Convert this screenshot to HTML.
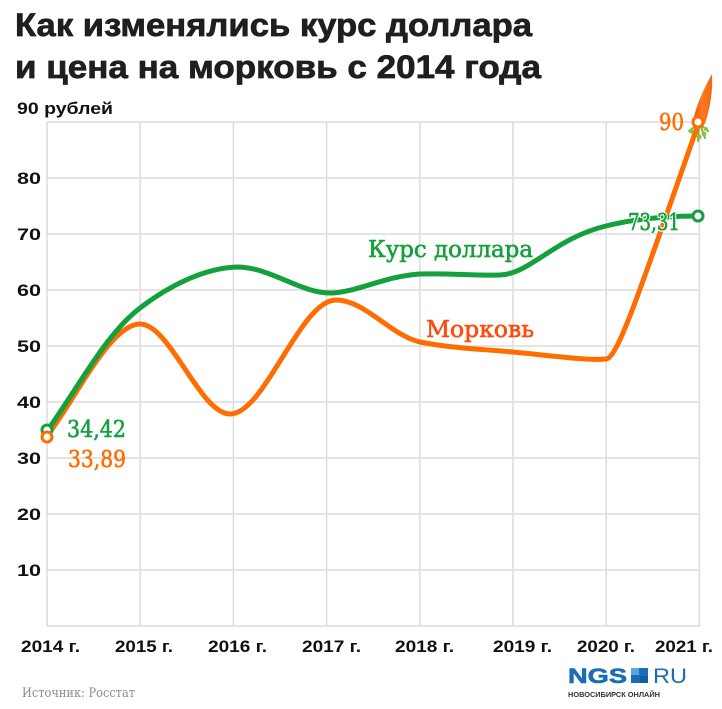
<!DOCTYPE html>
<html>
<head>
<meta charset="utf-8">
<style>
  html,body{margin:0;padding:0;background:#fff;}
  body{width:722px;height:709px;overflow:hidden;}
  svg{display:block;}
</style>
</head>
<body>
<svg width="722" height="709" viewBox="0 0 722 709" xmlns="http://www.w3.org/2000/svg">
  <rect width="722" height="709" fill="#fff"/>

  <!-- Title -->
  <text x="15" y="36" font-family="'Liberation Sans', sans-serif" font-weight="bold" font-size="32" fill="#1f1f1f" stroke="#1f1f1f" stroke-width="0.7" textLength="517" lengthAdjust="spacingAndGlyphs">Как изменялись курс доллара</text>
  <text x="15" y="78" font-family="'Liberation Sans', sans-serif" font-weight="bold" font-size="32" fill="#1f1f1f" stroke="#1f1f1f" stroke-width="0.7" textLength="526" lengthAdjust="spacingAndGlyphs">и цена на морковь с 2014 года</text>

  <!-- Y axis title -->
  <text x="17" y="114" font-family="'Liberation Sans', sans-serif" font-weight="bold" font-size="17" fill="#111" textLength="96" lengthAdjust="spacingAndGlyphs">90 рублей</text>

  <!-- Grid -->
  <g stroke="#dcdcdc" stroke-width="1.5" fill="none">
    <line x1="47" y1="122" x2="699.4" y2="122"/>
    <line x1="47" y1="178" x2="699.4" y2="178"/>
    <line x1="47" y1="234" x2="699.4" y2="234"/>
    <line x1="47" y1="290" x2="699.4" y2="290"/>
    <line x1="47" y1="346" x2="699.4" y2="346"/>
    <line x1="47" y1="402" x2="699.4" y2="402"/>
    <line x1="47" y1="458" x2="699.4" y2="458"/>
    <line x1="47" y1="514" x2="699.4" y2="514"/>
    <line x1="47" y1="570" x2="699.4" y2="570"/>
    <line x1="47" y1="626" x2="699.4" y2="626"/>
    <line x1="47" y1="122" x2="47" y2="626"/>
    <line x1="140.2" y1="122" x2="140.2" y2="626"/>
    <line x1="233.4" y1="122" x2="233.4" y2="626"/>
    <line x1="326.6" y1="122" x2="326.6" y2="626"/>
    <line x1="419.8" y1="122" x2="419.8" y2="626"/>
    <line x1="513" y1="122" x2="513" y2="626"/>
    <line x1="606.2" y1="122" x2="606.2" y2="626"/>
    <line x1="699.4" y1="122" x2="699.4" y2="626"/>
  </g>

  <!-- Y tick labels -->
  <g font-family="'Liberation Sans', sans-serif" font-weight="bold" font-size="17" fill="#111">
    <text x="17" y="184" textLength="24" lengthAdjust="spacingAndGlyphs">80</text>
    <text x="17" y="240" textLength="24" lengthAdjust="spacingAndGlyphs">70</text>
    <text x="17" y="296" textLength="24" lengthAdjust="spacingAndGlyphs">60</text>
    <text x="17" y="352" textLength="24" lengthAdjust="spacingAndGlyphs">50</text>
    <text x="17" y="408" textLength="24" lengthAdjust="spacingAndGlyphs">40</text>
    <text x="17" y="464" textLength="24" lengthAdjust="spacingAndGlyphs">30</text>
    <text x="17" y="520" textLength="24" lengthAdjust="spacingAndGlyphs">20</text>
    <text x="17" y="576" textLength="24" lengthAdjust="spacingAndGlyphs">10</text>
  </g>

  <!-- X labels -->
  <g font-family="'Liberation Sans', sans-serif" font-weight="bold" font-size="17" fill="#111">
    <text x="21" y="652" textLength="59" lengthAdjust="spacingAndGlyphs">2014 г.</text>
    <text x="115" y="652" textLength="58" lengthAdjust="spacingAndGlyphs">2015 г.</text>
    <text x="208" y="652" textLength="59" lengthAdjust="spacingAndGlyphs">2016 г.</text>
    <text x="302" y="652" textLength="59" lengthAdjust="spacingAndGlyphs">2017 г.</text>
    <text x="395" y="652" textLength="59" lengthAdjust="spacingAndGlyphs">2018 г.</text>
    <text x="493" y="652" textLength="59" lengthAdjust="spacingAndGlyphs">2019 г.</text>
    <text x="577" y="652" textLength="58" lengthAdjust="spacingAndGlyphs">2020 г.</text>
    <text x="655" y="652" textLength="58" lengthAdjust="spacingAndGlyphs">2021 г.</text>
  </g>

  <!-- Carrot -->
  <defs>
    <linearGradient id="carrotG" x1="0" y1="0" x2="1" y2="0">
      <stop offset="0" stop-color="#e8560a"/>
      <stop offset="0.5" stop-color="#ff7a22"/>
      <stop offset="1" stop-color="#f26612"/>
    </linearGradient>
  </defs>
  <path d="M693,122 C695,108 704,88 712,74 C713,92 710,108 705,124 Z" fill="url(#carrotG)"/>
  <g stroke="#7cb342" stroke-width="2" stroke-linecap="round" fill="none">
    <line x1="698" y1="124" x2="689" y2="131"/>
    <line x1="698" y1="124" x2="692" y2="138"/>
    <line x1="699" y1="124" x2="698" y2="141"/>
    <line x1="700" y1="124" x2="705" y2="138"/>
    <line x1="700" y1="124" x2="708" y2="131"/>
  </g>
  <g fill="#8bc34a">
    <circle cx="691" cy="131" r="2.5"/>
    <circle cx="694" cy="135" r="2.5"/>
    <circle cx="699" cy="137" r="2.5"/>
    <circle cx="704" cy="134" r="2.5"/>
    <circle cx="706" cy="129" r="2"/>
  </g>

  <!-- Orange series -->
  <path d="M47,436 C75,400 110,324 140,324 C170,324 200,414 230,414 C265,414 300,300 336,300 C365,300 390,335 420,342 C450,348 480,349 513,352 C545,355 590,361 606,359 C618,358 640,290 699,122"
        fill="none" stroke="#ff6d00" stroke-width="5" stroke-linecap="round" stroke-linejoin="round"/>

  <!-- Green series -->
  <path d="M47,431 C80,385 105,335 140,308 C170,285 205,268 237,267 C270,267 300,293 330,293 C355,293 385,276 420,274 C450,273 475,276 500,275 C530,274 555,238 606,226 C630,220 660,216 698,216"
        fill="none" stroke="#14a03c" stroke-width="5" stroke-linecap="round" stroke-linejoin="round"/>

  <!-- Markers -->
  <circle cx="47" cy="430" r="5" fill="#fff" stroke="#14a03c" stroke-width="3"/>
  <circle cx="47" cy="437" r="5" fill="#fff" stroke="#ff6d00" stroke-width="3"/>
  <circle cx="698" cy="216" r="5" fill="#fff" stroke="#14a03c" stroke-width="3"/>
  <circle cx="698" cy="122" r="5" fill="#fff" stroke="#ff6d00" stroke-width="3"/>

  <!-- Value labels -->
  <g font-family="'DejaVu Serif', 'Liberation Serif', serif" font-size="23">
    <text x="67" y="437" fill="#14a03c" stroke="#14a03c" stroke-width="0.6" textLength="59" lengthAdjust="spacingAndGlyphs">34,42</text>
    <text x="68" y="467" fill="#ff6d00" stroke="#ff6d00" stroke-width="0.6" textLength="58" lengthAdjust="spacingAndGlyphs">33,89</text>
    <text x="628" y="230" fill="#14a03c" stroke="#fff" stroke-width="3" paint-order="stroke" textLength="52" lengthAdjust="spacingAndGlyphs">73,31</text>
    <text x="628" y="230" fill="none" stroke="#14a03c" stroke-width="0.6" textLength="52" lengthAdjust="spacingAndGlyphs">73,31</text>
    <text x="659" y="130" fill="#ff6d00" stroke="#ff6d00" stroke-width="0.6" textLength="25" lengthAdjust="spacingAndGlyphs">90</text>
    <text x="368" y="257" fill="#14a03c" stroke="#14a03c" stroke-width="0.6" textLength="165" lengthAdjust="spacingAndGlyphs">Курс доллара</text>
    <text x="426" y="337" fill="#ff4a0c" stroke="#ff4a0c" stroke-width="0.6" textLength="108" lengthAdjust="spacingAndGlyphs">Морковь</text>
  </g>

  <!-- Source -->
  <text x="22" y="697" font-family="'DejaVu Serif', 'Liberation Serif', serif" font-size="13" fill="#8a8a8a" textLength="113" lengthAdjust="spacingAndGlyphs">Источник: Росстат</text>

  <!-- Logo -->
  <text x="568" y="683" font-family="'Liberation Sans', sans-serif" font-weight="bold" font-size="21" fill="#1b6db5" stroke="#1b6db5" stroke-width="0.6" textLength="59" lengthAdjust="spacingAndGlyphs">NGS</text>
  <rect x="631" y="668" width="17" height="15" fill="#1b6db5"/>
  <rect x="631" y="668" width="8" height="7" fill="#5aa7e0"/>
  <rect x="640" y="676" width="8" height="7" fill="#0f5ea3"/>
  <text x="653" y="683" font-family="'Liberation Sans', sans-serif" font-size="21" fill="#1b6db5" textLength="34" lengthAdjust="spacingAndGlyphs">RU</text>
  <text x="568" y="697" font-family="'Liberation Sans', sans-serif" font-weight="bold" font-size="7" fill="#333" textLength="92" lengthAdjust="spacingAndGlyphs">НОВОСИБИРСК ОНЛАЙН</text>
</svg>
</body>
</html>
